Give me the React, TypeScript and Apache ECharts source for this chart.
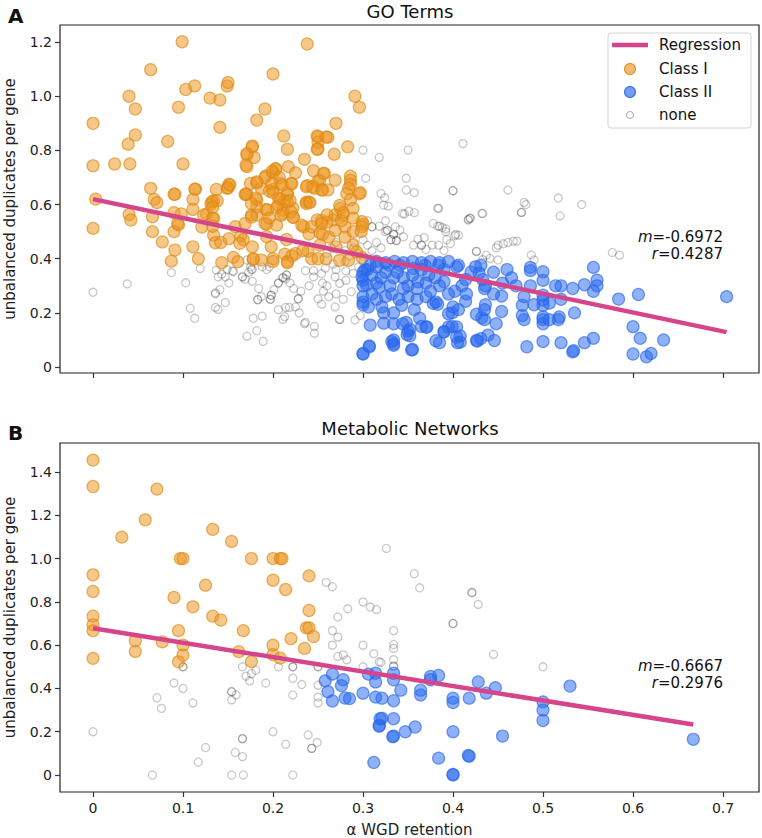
import React, { useEffect, useRef } from "react";
import * as echarts from "echarts";

const FONT = '"DejaVu Sans", Verdana, sans-serif';

const xTicks = [0, 0.1, 0.2, 0.3, 0.4, 0.5, 0.6, 0.7];
const goYTicks = [0, 0.2, 0.4, 0.6, 0.8, 1.0, 1.2];
const mnYTicks = [0, 0.2, 0.4, 0.6, 0.8, 1.0, 1.2, 1.4];

const goRegression = [[0, 0.62], [0.704, 0.129]];
const mnRegression = [[0, 0.678], [0.667, 0.233]];

const goStats = ["-0.6972", "0.4287"];
const mnStats = ["-0.6667", "0.2976"];

const goClass1 = [
  [0,0.90],[0,0.743],[0.003,0.62],[0,0.512],[0.024,0.75],[0.041,0.75],[0.04,1.0],[0.047,0.953],[0.039,0.823],[0.047,0.857],[0.064,1.098],[0.064,0.66],[0.083,0.833],[0.091,0.638],[0.095,0.959],[0.099,1.201],[0.1,0.75],[0.103,1.025],[0.113,1.038],[0.114,0.657],[0.13,0.993],[0.141,0.986],[0.141,0.885],[0.137,0.656],[0.149,1.038],[0.15,1.051],[0.151,0.675],[0.149,0.66],[0.171,0.74],[0.171,0.783],[0.177,0.813],[0.179,0.774],[0.182,0.912],[0.191,0.953],[0.2,1.082],[0.171,0.638],[0.175,0.678],[0.182,0.68],[0.187,0.66],[0.192,0.706],[0.2,0.717],[0.203,0.73],[0.2,0.656],[0.208,0.678],[0.212,0.853],[0.216,0.804],[0.217,0.74],[0.22,0.678],[0.216,0.644],[0.225,0.717],[0.238,1.193],[0.235,0.767],[0.238,0.67],[0.245,0.725],[0.246,0.66],[0.25,0.687],[0.25,0.805],[0.25,0.85],[0.25,0.83],[0.261,0.848],[0.257,0.715],[0.254,0.654],[0.261,0.654],[0.268,0.786],[0.27,0.9],[0.269,0.69],[0.283,0.813],[0.291,1.0],[0.296,0.959],[0.286,0.705],[0.286,0.69],[0.286,0.675],[0.284,0.66],[0.282,0.64],[0.296,0.64],
  [0.297,0.644],[0.286,0.617],[0.275,0.586],[0.289,0.586],[0.278,0.561],[0.267,0.543],[0.28,0.518],[0.299,0.537],[0.299,0.518],[0.289,0.5],
  [0.04,0.563],[0.042,0.543],[0.068,0.619],[0.071,0.607],[0.066,0.555],[0.066,0.5],[0.077,0.462],[0.09,0.5],[0.091,0.432],[0.087,0.391],[0.098,0.565],[0.095,0.525],[0.111,0.619],[0.111,0.582],[0.111,0.444],[0.117,0.4],[0.121,0.517],[0.126,0.565],[0.131,0.602],[0.134,0.614],[0.134,0.549],[0.134,0.487],[0.136,0.459],[0.142,0.46],[0.143,0.385],[0.151,0.474],[0.156,0.405],[0.161,0.389],[0.164,0.484],[0.167,0.47],[0.169,0.637],[0.176,0.561],[0.177,0.444],[0.178,0.397],[0.182,0.617],[0.182,0.592],[0.187,0.395],[0.192,0.582],[0.193,0.528],[0.193,0.481],[0.198,0.444],[0.2,0.4],[0.206,0.624],[0.206,0.597],[0.211,0.567],[0.211,0.58],[0.213,0.614],[0.215,0.471],[0.213,0.417],[0.216,0.39],[0.222,0.587],[0.223,0.552],[0.225,0.419],[0.221,0.41],[0.234,0.518],[0.237,0.609],[0.24,0.491],[0.24,0.609],[0.243,0.4],[0.239,0.428],[0.25,0.4],[0.252,0.496],[0.252,0.45],[0.254,0.541],[0.259,0.4],[0.26,0.535],[0.262,0.48],[0.269,0.562],[0.269,0.504],[0.27,0.444],[0.274,0.394],[0.274,0.597],[0.276,0.54],[0.278,0.57],[0.28,0.48],[0.284,0.394],[0.289,0.55],[0.289,0.45],[0.293,0.425],[0.3,0.527],[0.298,0.5],[0.299,0.404],
  [0.177,0.816],[0.171,0.789],[0.17,0.746],[0.249,0.853],[0.249,0.804],[0.259,0.85],[0.203,0.733],[0.199,0.723],[0.256,0.715],[0.191,0.7],[0.207,0.7],[0.182,0.684],[0.199,0.677],[0.21,0.672],[0.221,0.677],[0.252,0.688],[0.237,0.666],[0.244,0.666],[0.255,0.654],[0.113,0.657],[0.09,0.638],[0.15,0.662],[0.152,0.672],[0.17,0.639],[0.196,0.65],[0.181,0.623],[0.2,0.644],[0.208,0.62],[0.216,0.635],[0.216,0.61],[0.219,0.615],[0.132,0.61],[0.138,0.614],[0.133,0.59],[0.123,0.561],[0.176,0.604],[0.182,0.561],[0.194,0.58],[0.204,0.59],[0.209,0.56],[0.22,0.573],[0.222,0.554],[0.237,0.604],[0.241,0.607],[0.249,0.543],[0.26,0.562],[0.09,0.57],[0.094,0.53],[0.133,0.55],[0.133,0.52],[0.158,0.518],[0.169,0.53],[0.176,0.554],[0.191,0.53],[0.196,0.55],[0.204,0.524],[0.232,0.524],[0.243,0.518],[0.254,0.53],
  [0.163,0.457],[0.178,0.4],[0.2,0.39],[0.216,0.385],[0.233,0.43],[0.255,0.49]
];

const goClass2 = [
  [0.302,0.358],[0.308,0.376],[0.299,0.333],[0.304,0.303],[0.3,0.26],[0.306,0.222],[0.308,0.155],[0.3,0.048],[0.307,0.075],[0.315,0.37],[0.32,0.33],[0.318,0.295],[0.321,0.222],[0.323,0.2],[0.323,0.162],[0.329,0.376],[0.334,0.33],[0.332,0.27],[0.334,0.2],[0.334,0.16],[0.332,0.094],[0.334,0.08],[0.341,0.376],[0.345,0.29],[0.343,0.228],[0.348,0.165],[0.352,0.14],[0.352,0.115],[0.355,0.065],[0.356,0.364],[0.361,0.315],[0.357,0.212],[0.363,0.18],[0.365,0.15],[0.369,0.376],[0.373,0.34],[0.378,0.235],[0.381,0.24],[0.381,0.097],[0.384,0.376],[0.39,0.315],[0.39,0.13],[0.399,0.15],[0.399,0.2],[0.406,0.212],[0.406,0.376],[0.402,0.28],[0.408,0.115],[0.408,0.092],[0.414,0.243],[0.431,0.376],[0.432,0.182],[0.431,0.105],[0.435,0.29],[0.439,0.118],
  [0.704,0.26],[0.606,0.268],[0.6,0.149],[0.608,0.106],[0.634,0.1],[0.6,0.048],[0.615,0.038],[0.62,0.05],[0.584,0.251],[0.556,0.368],[0.56,0.321],[0.56,0.3],[0.556,0.28],[0.556,0.106],[0.546,0.09],[0.535,0.2],[0.534,0.06],[0.533,0.056],[0.52,0.09],[0.518,0.185],[0.517,0.175],[0.546,0.304],[0.533,0.29],[0.52,0.3],[0.514,0.3],[0.52,0.25],[0.507,0.236],[0.5,0.352],[0.5,0.32],[0.5,0.265],[0.5,0.247],[0.5,0.228],[0.5,0.185],[0.5,0.175],[0.5,0.16],[0.5,0.094],[0.507,0.175],[0.486,0.368],[0.486,0.356],[0.486,0.3],[0.479,0.26],[0.477,0.228],[0.477,0.19],[0.479,0.175],[0.49,0.23],[0.482,0.075],[0.46,0.36],[0.454,0.262],[0.454,0.205],[0.448,0.16],[0.446,0.098],[0.435,0.212],[0.426,0.195],[0.427,0.096],[0.426,0.098],[0.435,0.175],[0.436,0.23],[0.425,0.37],[0.429,0.347],[0.433,0.323],[0.436,0.3],[0.414,0.323],[0.404,0.37],[0.404,0.148],[0.395,0.148],[0.395,0.197],[0.4,0.222],[0.404,0.111],[0.405,0.09],[0.39,0.13],[0.383,0.232],[0.385,0.09],[0.371,0.148],[0.354,0.063],[0.334,0.1],[0.334,0.086],[0.349,0.12],[0.35,0.133],[0.344,0.16],[0.37,0.148],
  [0.3,0.32],[0.3,0.3],[0.3,0.24],[0.3,0.23],[0.307,0.078],[0.3,0.05],[0.3,0.35],[0.305,0.36],
  [0.31,0.34],[0.315,0.31],[0.325,0.35],[0.33,0.3],[0.338,0.35],[0.345,0.33],[0.35,0.3],[0.355,0.34],[0.36,0.29],[0.365,0.36],[0.37,0.31],[0.375,0.28],[0.38,0.33],[0.385,0.3],[0.39,0.36],[0.395,0.27],[0.31,0.27],[0.315,0.25],[0.325,0.26],[0.34,0.25],[0.35,0.26],[0.36,0.25],[0.37,0.26],[0.315,0.39],[0.325,0.385],[0.335,0.39],[0.345,0.385],[0.355,0.39],[0.365,0.385],[0.375,0.39],[0.385,0.385],[0.395,0.39],[0.41,0.3],[0.42,0.35],[0.445,0.35],[0.455,0.31],[0.465,0.33],[0.47,0.3],[0.415,0.27],[0.445,0.27]
];

const goNone = [
  [0.3,0.801],[0.318,0.774],[0.35,0.801],[0.411,0.825],[0.303,0.697],[0.348,0.697],[0.348,0.654],[0.357,0.644],[0.4,0.651],[0.4,0.651],[0.32,0.641],[0.324,0.625],[0.323,0.598],[0.328,0.594],[0.346,0.565],[0.357,0.57],[0.383,0.586],[0.417,0.545],[0.419,0.55],[0.432,0.567],[0.325,0.54],[0.383,0.52],[0.388,0.515],[0.392,0.5],[0.403,0.49],[0.31,0.518],[0.31,0.518],[0.318,0.52],[0.327,0.505],[0.327,0.505],[0.336,0.518],[0.305,0.54],
  [0.461,0.654],[0.517,0.624],[0.519,0.558],[0.543,0.6],[0.479,0.608],[0.481,0.6],[0.476,0.571],[0.476,0.571],[0.344,0.567],[0.351,0.575],[0.384,0.586],[0.433,0.567],[0.419,0.549],[0.417,0.543],[0.378,0.53],[0.385,0.52],[0.392,0.51],[0.406,0.487],[0.45,0.45],[0.456,0.455],[0.461,0.46],[0.467,0.465],[0.471,0.465],[0.448,0.44],[0.426,0.428],[0.441,0.401],[0.45,0.395],[0.487,0.414],[0.49,0.395],[0.577,0.423],[0.585,0.413],[0.341,0.506],[0.361,0.472],[0.368,0.478],[0.377,0.45],[0.397,0.456],[0.39,0.43],[0.334,0.49],[0.334,0.49],[0.337,0.467],[0.337,0.467],[0.365,0.45],[0.365,0.45],
  [0.269,0.333],[0.274,0.309],[0.281,0.32],[0.289,0.346],[0.27,0.27],[0.278,0.25],[0.287,0.278],[0.269,0.222],[0.274,0.176],[0.274,0.176],[0.291,0.174],[0.297,0.19],[0.267,0.38],[0.281,0.355],[0.345,0.481],[0.325,0.5],[0.331,0.47],[0.331,0.47],[0.356,0.45],[0.37,0.434],[0.384,0.45],[0.393,0.47],[0.402,0.485],[0.426,0.426],[0.433,0.397],[0.437,0.413],[0.3,0.47],[0.29,0.46],
  [0.087,0.349],[0.103,0.311],[0.119,0.364],[0.108,0.217],[0.113,0.18],[0.136,0.274],[0.141,0.286],[0.147,0.238],[0.136,0.22],[0.139,0.213],[0.139,0.333],[0.147,0.333],[0.151,0.31],[0.156,0.352],[0.166,0.333],[0.166,0.333],[0.169,0.324],[0.173,0.35],[0.177,0.36],[0.177,0.317],[0.175,0.37],[0.188,0.37],[0.193,0.36],[0.184,0.29],[0.187,0.26],[0.183,0.249],[0.183,0.249],[0.178,0.18],[0.188,0.188],[0.171,0.114],[0.182,0.134],[0.189,0.095],[0.197,0.25],[0.197,0.25],[0.198,0.265],[0.198,0.265],[0.201,0.286],[0.206,0.212],[0.213,0.186],[0.211,0.176],[0.214,0.22],[0.218,0.22],[0.206,0.31],[0.206,0.31],[0.211,0.33],[0.211,0.33],[0.214,0.325],[0.215,0.34],[0.215,0.34],[0.219,0.31],[0.223,0.29],[0.225,0.222],[0.228,0.252],[0.228,0.252],[0.229,0.2],[0.231,0.28],[0.236,0.165],[0.235,0.16],[0.24,0.3],[0.245,0.333],[0.246,0.15],[0.246,0.125],[0.25,0.252],[0.254,0.232],[0.256,0.28],[0.236,0.356],[0.245,0.356],[0.254,0.345],[0.196,0.37],
  [0,0.276],[0.038,0.307],[0.137,0.358],[0.143,0.343],[0.149,0.36],[0.155,0.355],[0.136,0.27],[0.171,0.395],[0.176,0.36],
  [0.26,0.42],[0.265,0.44],[0.27,0.46],[0.28,0.43],[0.285,0.41],[0.29,0.44],[0.295,0.42],[0.3,0.41],[0.305,0.45],[0.31,0.43],[0.315,0.46],[0.32,0.44],[0.27,0.36],[0.26,0.3],[0.255,0.31],[0.262,0.26],[0.295,0.37],[0.3,0.39],[0.258,0.365],[0.28,0.39]
];

const mnClass1 = [
  [0,1.455],[0,1.333],[0.071,1.321],[0.032,1.099],[0.058,1.179],[0.133,1.135],[0.154,1.079],[0.097,1.0],[0.1,1.0],[0.176,1.0],[0.2,1.0],[0.208,1.0],[0.21,1.0],[0,0.925],[0,0.848],[0.2,0.9],[0.214,0.857],[0.24,0.92],[0.125,0.877],[0.09,0.82],[0.111,0.777],[0.24,0.76],[0,0.734],[0,0.694],[0,0.667],[0,0.539],[0.047,0.62],[0.047,0.571],[0.077,0.615],[0.095,0.667],[0.1,0.6],[0.1,0.554],[0.095,0.523],[0.133,0.734],[0.142,0.716],[0.167,0.667],[0.162,0.57],[0.176,0.524],[0.2,0.6],[0.2,0.556],[0.208,0.54],[0.22,0.63],[0.235,0.585],[0.237,0.68],[0.24,0.68],[0.245,0.64]
];

const mnClass2 = [
  [0.667,0.165],[0.53,0.411],[0.5,0.338],[0.5,0.3],[0.5,0.252],[0.455,0.18],[0.447,0.403],[0.437,0.378],[0.428,0.43],[0.418,0.355],[0.418,0.087],[0.417,0.09],[0.4,0.355],[0.4,0.335],[0.4,0.2],[0.4,0],[0.4,0.003],[0.384,0.46],[0.384,0.078],[0.375,0.455],[0.375,0.44],[0.364,0.392],[0.364,0.37],[0.358,0.222],[0.347,0.2],[0.342,0.392],[0.334,0.44],[0.334,0.47],[0.334,0.343],[0.334,0.26],[0.334,0.18],[0.333,0.177],[0.321,0.355],[0.321,0.262],[0.318,0.23],[0.258,0.435],[0.266,0.466],[0.266,0.342],[0.261,0.385],[0.276,0.413],[0.278,0.44],[0.28,0.356],[0.285,0.353],[0.3,0.378],[0.306,0.466],[0.314,0.47],[0.314,0.43],[0.314,0.36],[0.318,0.225],[0.312,0.058],[0.319,0.26]
];

const mnNone = [
  [0,0.2],[0.066,0],[0.071,0.357],[0.076,0.308],[0.09,0.425],[0.1,0.4],[0.1,0.5],[0.1,0.5],[0.111,0.333],[0.117,0.06],[0.125,0.127],[0.154,0],[0.167,0],[0.154,0.385],[0.154,0.385],[0.154,0.347],[0.159,0.37],[0.158,0.104],[0.166,0.085],[0.166,0.168],[0.166,0.168],[0.166,0.5],[0.17,0.457],[0.174,0.435],[0.176,0.468],[0.181,0.484],[0.192,0.425],[0.2,0.2],[0.206,0.5],[0.214,0.142],[0.222,0],[0.222,0.5],[0.222,0.5],[0.222,0.447],[0.222,0.37],[0.232,0.418],[0.239,0.185],[0.243,0.123],[0.243,0.123],[0.249,0.15],[0.25,0.5],[0.25,0.5],[0.25,0.415],[0.25,0.36],[0.25,0.333],[0.266,0.667],[0.266,0.6],[0.272,0.637],[0.272,0.73],[0.283,0.768],[0.272,0.548],[0.278,0.555],[0.282,0.532],[0.3,0.8],[0.308,0.776],[0.315,0.765],[0.3,0.6],[0.312,0.561],[0.3,0.5],[0.318,0.523],[0.259,0.89],[0.266,0.87],[0.326,1.047],[0.357,0.93],[0.363,0.865],[0.421,0.843],[0.421,0.843],[0.428,0.788],[0.4,0.7],[0.4,0.7],[0.334,0.667],[0.334,0.603],[0.334,0.585],[0.334,0.533],[0.334,0.503],[0.334,0.503],[0.445,0.557],[0.5,0.5],[0.32,0.52]
];

const PINK = "#D6458B";
const c1Style = { color: "rgba(235,150,30,0.65)", borderColor: "rgba(220,135,15,0.8)", borderWidth: 1.2 };
const c2Style = { color: "rgba(40,105,240,0.65)", borderColor: "rgba(40,100,235,0.8)", borderWidth: 1.2 };
const noneStyle = { color: "rgba(0,0,0,0)", borderColor: "rgba(60,60,60,0.35)", borderWidth: 1.3 };

const fmt = (v: number) => (v === 0 ? "0" : v.toFixed(1));

function xAxisCfg(gridIndex: number, showLabels: boolean) {
  return {
    type: "value",
    gridIndex,
    min: -0.0367,
    max: 0.74,
    axisLine: { show: false, onZero: false },
    splitLine: { show: false },
    axisTick: { show: true, customValues: xTicks, length: 5, lineStyle: { color: "#333", width: 1.2 } },
    axisLabel: {
      show: showLabels,
      customValues: xTicks,
      formatter: fmt,
      fontSize: 14,
      fontFamily: FONT,
      color: "#222",
      margin: 9,
    },
    name: showLabels ? "α WGD retention" : "",
    nameLocation: "middle",
    nameGap: 30,
    nameTextStyle: { fontSize: 15, fontFamily: FONT, color: "#222" },
  };
}

function yAxisCfg(gridIndex: number, min: number, max: number, ticks: number[]) {
  return {
    type: "value",
    gridIndex,
    min,
    max,
    axisLine: { show: false, onZero: false },
    splitLine: { show: false },
    axisTick: { show: true, customValues: ticks, length: 5, lineStyle: { color: "#333", width: 1.2 } },
    axisLabel: {
      show: true,
      customValues: ticks,
      formatter: fmt,
      fontSize: 14,
      fontFamily: FONT,
      color: "#222",
      margin: 8,
    },
    name: "unbalanced duplicates per gene",
    nameLocation: "middle",
    nameGap: 43,
    nameTextStyle: { fontSize: 15, fontFamily: FONT, color: "#222" },
  };
}

function panelSeries(idx: number, c1: number[][], c2: number[][], none: number[][], reg: number[][]) {
  return [
    { type: "scatter", xAxisIndex: idx, yAxisIndex: idx, data: none, symbolSize: 8, itemStyle: noneStyle, z: 2 },
    { type: "scatter", xAxisIndex: idx, yAxisIndex: idx, data: c1, symbolSize: 12, itemStyle: c1Style, z: 3 },
    { type: "scatter", xAxisIndex: idx, yAxisIndex: idx, data: c2, symbolSize: 12, itemStyle: c2Style, z: 3 },
    { type: "line", xAxisIndex: idx, yAxisIndex: idx, data: reg, symbol: "none", lineStyle: { color: PINK, width: 4.5 }, z: 5 },
  ];
}

function txt(x: number, y: number, text: string, size: number, align = "left", weight = "normal", rich?: any) {
  return {
    type: "text",
    x,
    y,
    z: 10,
    style: {
      text,
      fontSize: size,
      fontFamily: FONT,
      fontWeight: weight,
      fill: "#111",
      align,
      verticalAlign: "middle",
      rich,
    },
  };
}

const italicRich = { i: { fontStyle: "italic", fontSize: 15, fontFamily: FONT, fill: "#111" } };

export default function App() {
  const ref = useRef<HTMLDivElement>(null);
  useEffect(() => {
    if (!ref.current) return;
    const chart = echarts.init(ref.current, null, { renderer: "svg" });
    const legend = {
      type: "group",
      z: 20,
      children: [
        { type: "rect", shape: { x: 608, y: 33, width: 143, height: 95, r: 3 }, style: { fill: "rgba(255,255,255,0.85)", stroke: "#d4d4d4", lineWidth: 1 } },
        { type: "line", shape: { x1: 612, y1: 45, x2: 648, y2: 45 }, style: { stroke: PINK, lineWidth: 4.5 } },
        { type: "circle", shape: { cx: 630, cy: 69, r: 5.5 }, style: { fill: c1Style.color, stroke: c1Style.borderColor, lineWidth: 1.2 } },
        { type: "circle", shape: { cx: 630, cy: 92, r: 5.5 }, style: { fill: c2Style.color, stroke: c2Style.borderColor, lineWidth: 1.2 } },
        { type: "circle", shape: { cx: 630, cy: 115, r: 3.5 }, style: { fill: "rgba(0,0,0,0)", stroke: noneStyle.borderColor, lineWidth: 1.3 } },
        txt(659, 45, "Regression", 15),
        txt(659, 69, "Class I", 15),
        txt(659, 92, "Class II", 15),
        txt(659, 115, "none", 15),
      ],
    };
    chart.setOption({
      animation: false,
      grid: [
        { left: 60, top: 25, width: 699, height: 348, show: true, borderColor: "#222", borderWidth: 1.2, backgroundColor: "transparent", outerBoundsMode: "none", containLabel: false },
        { left: 60, top: 443, width: 699, height: 349, show: true, borderColor: "#222", borderWidth: 1.2, backgroundColor: "transparent", outerBoundsMode: "none", containLabel: false },
      ],
      xAxis: [xAxisCfg(0, false), xAxisCfg(1, true)],
      yAxis: [yAxisCfg(0, -0.022, 1.263, goYTicks), yAxisCfg(1, -0.0785, 1.534, mnYTicks)],
      series: [
        ...panelSeries(0, goClass1, goClass2, goNone, goRegression),
        ...panelSeries(1, mnClass1, mnClass2, mnNone, mnRegression),
      ],
      graphic: [
        txt(8, 16, "A", 20, "left", "bold"),
        txt(8, 433, "B", 20, "left", "bold"),
        txt(410, 11, "GO Terms", 18, "center"),
        txt(410, 428, "Metabolic Networks", 18, "center"),
        txt(723, 237, "{i|m}=" + goStats[0], 15, "right", "normal", italicRich),
        txt(723, 254, "{i|r}=" + goStats[1], 15, "right", "normal", italicRich),
        txt(723, 666, "{i|m}=" + mnStats[0], 15, "right", "normal", italicRich),
        txt(723, 683, "{i|r}=" + mnStats[1], 15, "right", "normal", italicRich),
        legend,
      ],
    });
    return () => chart.dispose();
  }, []);
  return <div ref={ref} style={{ width: 762, height: 838, position: "absolute", left: 0, top: 0 }} />;
}
